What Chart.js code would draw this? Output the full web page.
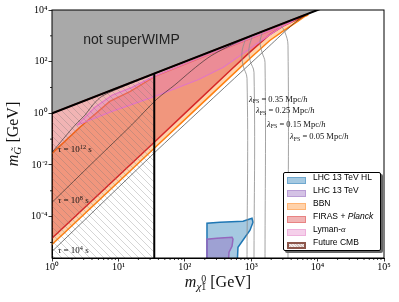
<!DOCTYPE html>
<html>
<head>
<meta charset="utf-8">
<script src="https://cdn.jsdelivr.net/npm/chart.js@4.4.1/dist/chart.umd.min.js"></script>
<style>
body { margin: 0; background: #fff; }
#wrap { position: relative; width: 399px; height: 302px; }
.t { position: absolute; white-space: nowrap; line-height: 1; color: #111; }
.ser { font-family: 'Liberation Serif', serif; }
.sans { font-family: 'Liberation Sans', Arial, sans-serif; }
.t sup { font-size: 70%; position: relative; top: -0.45em; vertical-align: baseline; }
.t sub { font-size: 70%; position: relative; top: 0.3em; vertical-align: baseline; }
.stk { display: inline-block; font-size: 62%; line-height: 0.85; vertical-align: -0.35em; }
#legend { position: absolute; left: 283px; top: 172px; width: 98px; height: 79px; border: 1px solid #000;
  border-radius: 2px; background: #fff; box-shadow: 2px 2px 0 #666; box-sizing: border-box; }
.row { position: absolute; left: 0; height: 12px; }
.patch { position: absolute; left: 3px; width: 19px; height: 7px; box-sizing: border-box; border: 1px solid; }
.lab { position: absolute; left: 29px; top: -5px; font-size: 8.5px; white-space: nowrap; }
</style>
</head>
<body>
<div id="wrap">
<canvas id="chart" width="399" height="302"></canvas>

<div class="t sans" style="left:131.5px;top:39px;transform:translate(-50%,-50%);font-size:14px;color:#222">not superWIMP</div>

<div class="t ser" style="left:58px;top:148.5px;transform:translateY(-50%);font-size:9px"><i>τ</i> = 10<sup>12</sup> s</div>
<div class="t ser" style="left:58px;top:200px;transform:translateY(-50%);font-size:9px"><i>τ</i> = 10<sup>8</sup> s</div>
<div class="t ser" style="left:58px;top:250px;transform:translateY(-50%);font-size:9px"><i>τ</i> = 10<sup>4</sup> s</div>

<div class="t ser" style="left:249px;top:98.5px;transform:translateY(-50%);font-size:8.5px"><i>λ</i><sub>FS</sub> = 0.35 Mpc/<i>h</i></div>
<div class="t ser" style="left:256px;top:110px;transform:translateY(-50%);font-size:8.5px"><i>λ</i><sub>FS</sub> = 0.25 Mpc/<i>h</i></div>
<div class="t ser" style="left:267px;top:123.5px;transform:translateY(-50%);font-size:8.5px"><i>λ</i><sub>FS</sub> = 0.15 Mpc/<i>h</i></div>
<div class="t ser" style="left:290px;top:136px;transform:translateY(-50%);font-size:8.5px"><i>λ</i><sub>FS</sub> = 0.05 Mpc/<i>h</i></div>

<div class="t ser" style="left:218px;top:283px;transform:translate(-50%,-50%);font-size:16px"><i>m</i><i style="font-size:70%;position:relative;top:0.3em">χ̃</i><span class="stk">0<br>1</span> [GeV]</div>
<div class="t ser" style="left:13px;top:134px;transform:translate(-50%,-50%) rotate(-90deg);font-size:16px"><i>m</i><sub><i>G̃</i></sub> [GeV]</div>

<div id="legend">
  <div class="row" style="top:4px"><div class="patch" style="background:rgba(31,119,180,0.4);border-color:rgba(31,119,180,0.4)"></div><div class="lab sans">LHC 13 TeV HL</div></div>
  <div class="row" style="top:17px"><div class="patch" style="background:rgba(148,103,189,0.4);border-color:rgba(148,103,189,0.4)"></div><div class="lab sans">LHC 13 TeV</div></div>
  <div class="row" style="top:30px"><div class="patch" style="background:rgba(255,127,14,0.35);border-color:rgba(255,127,14,0.35)"></div><div class="lab sans">BBN</div></div>
  <div class="row" style="top:43px"><div class="patch" style="background:rgba(214,39,40,0.35);border-color:rgba(214,39,40,0.35)"></div><div class="lab sans">FIRAS + <i>Planck</i></div></div>
  <div class="row" style="top:56px"><div class="patch" style="background:rgba(227,119,194,0.35);border-color:rgba(227,119,194,0.35)"></div><div class="lab sans">Lyman-<span class="ser"><i>α</i></span></div></div>
  <div class="row" style="top:69px"><div class="patch" style="border:2px solid #8c564b;background:repeating-linear-gradient(45deg,#f3ecea 0 1px,#d8c8c4 1px 2px)"></div><div class="lab sans">Future CMB</div></div>
</div>
</div>

<script>
// all points are [log10 m_chi, log10 m_G]
const notWimp = [[-0.2, -0.2], [4.2, 4.2], [-0.2, 4.2]];
const diagEdge = [[-0.2, -0.2], [4.2, 4.2]];

const firasEdge = [[-0.2, -5.32], [0, -4.84], [1.54, -1.12], [2.08, 0.19], [2.68, 1.65], [2.98, 2.37],
  [3.28, 3.05], [3.48, 3.38], [3.7, 3.66], [3.8, 3.79]];
const firasTop = [[3.8, 3.8], [-0.2, -0.2]];

const bbnLow = [[-0.2, -5.56], [0, -5.08], [1.54, -1.35], [2.08, -0.05], [2.68, 1.4], [2.98, 2.12],
  [3.28, 2.82], [3.48, 3.18], [3.7, 3.56], [3.85, 3.83]];
const bbnHigh = [[-0.2, -2.03], [0, -1.55], [0.42, -0.54], [0.87, 0.46], [1.18, 0.85], [1.55, 1.43],
  [2.23, 2.14], [3.0, 2.9], [3.5, 3.42], [3.85, 3.8]];

const lymanLow = [[0.377, -0.464], [0.904, 0.077], [1.551, 0.658], [2.2, 1.3], [2.58, 1.78], [2.9, 2.35],
  [3.2, 2.9], [3.45, 3.33], [3.6, 3.55], [3.69, 3.67]];
const lymanHigh = [[0.377, -0.464], [0.497, -0.155], [0.648, 0.232], [0.904, 0.697], [1.205, 1.006],
  [1.551, 1.45], [2.229, 2.15], [2.982, 2.9], [3.584, 3.5], [3.69, 3.67]];

const tau12 = [[0, -1.51], [0.346, -0.46], [0.5, -0.06], [0.6, 0.28], [0.72, 0.6], [0.85, 0.79], [1.0, 0.96], [1.3, 1.28]];
const tau8 = [[0, -3.45], [0.65, -1.82], [1.2, -0.45], [1.58, 0.55], [1.85, 1.1], [2.1, 1.65], [2.35, 2.15],
  [2.55, 2.45], [2.8, 2.76], [3.0, 2.98]];
const tau4 = [[0, -5.35], [1.55, -1.51], [2.23, 0.12], [2.8, 1.48], [3.2, 2.43], [3.5, 3.15], [3.69, 3.58],
  [3.85, 3.84], [4, 4]];

const lepCut = [[1.54, -6], [1.54, 1.54]];
const cmbHatch = [[-0.2, -6], [-0.2, -0.2], [1.54, 1.54], [1.54, -6]];

const lfs035 = [[2.907, 2.825], [2.861, 2.361], [2.877, 1.858], [2.937, 1.354], [2.937, -6]];
const lfs025 = [[3.012, 2.941], [2.967, 2.515], [2.982, 2.051], [3.042, 1.587], [3.042, -6]];
const lfs015 = [[3.163, 3.096], [3.133, 2.748], [3.163, 2.361], [3.208, 1.974], [3.208, -6]];
const lfs005 = [[3.449, 3.406], [3.509, 3.135], [3.554, 2.632], [3.554, -6]];

const lhcHL = [[2.334, -6], [2.334, -4.257], [2.53, -4.218], [2.877, -4.18], [3.012, -4.063], [3.027, -4.218],
  [2.982, -4.528], [2.907, -4.799], [2.801, -5.186], [2.786, -6]];
const lhc13 = [[2.334, -6], [2.334, -4.876], [2.485, -4.838], [2.711, -4.799], [2.726, -4.876], [2.711, -5.147],
  [2.666, -5.379], [2.651, -6]];

const xTicks = [1, 10, 100, 1e3, 1e4, 1e5];
const xTickLabels = ['10⁰', '10¹', '10²', '10³', '10⁴', '10⁵'];
const xMinorSubs = [2, 3, 4, 5, 6, 7, 8, 9];
const yTicks = [1e-4, 1e-2, 1, 1e2, 1e4];
const yTickLabels = ['10⁻⁴', '10⁻²', '10⁰', '10²', '10⁴'];
const yMinor = [1e-5, 1e-3, 1e-1, 10, 1e3];

const P = a => a.map(p => ({ x: 10 ** p[0], y: 10 ** p[1] }));

function hatch() {
  const c = document.createElement('canvas');
  c.width = 7; c.height = 7;
  const g = c.getContext('2d');
  g.strokeStyle = 'rgba(120,120,120,0.45)';
  g.lineWidth = 0.7;
  g.beginPath();
  g.moveTo(-1, -1); g.lineTo(8, 8);
  g.moveTo(-1, 6); g.lineTo(1, 8);
  g.moveTo(6, -1); g.lineTo(8, 1);
  g.stroke();
  return g.createPattern(c, 'repeat');
}

function line(pts, color, width, order, extra) {
  return Object.assign({
    data: P(pts), showLine: true, fill: false, borderColor: color, borderWidth: width,
    pointRadius: 0, pointHoverRadius: 0, order: order, clip: 0, tension: 0
  }, extra || {});
}
function area(pts, bg, color, width, order) {
  return line(pts, color, width, order, { fill: 'shape', backgroundColor: bg });
}

const frame = {
  id: 'frame',
  afterDraw(chart) {
    const { ctx, chartArea: a, scales } = chart;
    ctx.save();
    ctx.strokeStyle = '#000';
    ctx.lineWidth = 1;
    ctx.strokeRect(a.left, a.top, a.right - a.left, a.bottom - a.top);
    ctx.lineWidth = 0.8;
    ctx.beginPath();
    xTicks.slice(0, -1).forEach(d => xMinorSubs.forEach(s => {
      const px = scales.x.getPixelForValue(d * s);
      ctx.moveTo(px, a.bottom); ctx.lineTo(px, a.bottom + 2);
    }));
    yMinor.forEach(v => {
      const py = scales.y.getPixelForValue(v);
      ctx.moveTo(a.left, py); ctx.lineTo(a.left - 2, py);
    });
    ctx.stroke();
    ctx.restore();
  }
};

const tickFont = { family: 'Liberation Serif', size: 10 };

new Chart(document.getElementById('chart'), {
  type: 'scatter',
  data: {
    datasets: [
      area(notWimp, '#a9a9a9', 'rgba(0,0,0,0)', 0, 20),
      area(bbnLow.concat(bbnHigh.slice().reverse()), 'rgba(255,127,14,0.35)', '#ff7f0e', 1.5, 19),
      area(firasEdge.concat(firasTop), 'rgba(214,39,40,0.35)', '#d62728', 1.5, 18),
      area(lymanLow.concat(lymanHigh.slice(0, -1).reverse()), 'rgba(227,119,194,0.35)', '#e377c2', 1.2, 17),
      area(cmbHatch, hatch(), 'rgba(0,0,0,0)', 0, 16),
      area(lhcHL, 'rgba(31,119,180,0.4)', '#1f77b4', 1.5, 15),
      area(lhc13, 'rgba(148,103,189,0.4)', '#9467bd', 1.5, 14),
      line(tau12, '#222', 0.6, 10, { tension: 0.3 }),
      line(tau8, '#222', 0.6, 10, { tension: 0.3 }),
      line(tau4, '#222', 0.6, 10, { tension: 0.2 }),
      line(lfs035, '#8c8c8c', 0.8, 9, { tension: 0.4 }),
      line(lfs025, '#8c8c8c', 0.8, 9, { tension: 0.4 }),
      line(lfs015, '#8c8c8c', 0.8, 9, { tension: 0.4 }),
      line(lfs005, '#8c8c8c', 0.8, 9, { tension: 0.4 }),
      line(lepCut, '#000', 2, 1),
      line(diagEdge, '#000', 2, 0)
    ]
  },
  options: {
    responsive: false,
    animation: false,
    events: [],
    layout: { padding: { left: 0, right: 15, top: 10, bottom: 0 } },
    plugins: { legend: { display: false }, tooltip: { enabled: false } },
    scales: {
      x: {
        type: 'logarithmic', min: 1, max: 1e5,
        afterBuildTicks: s => { s.ticks = xTicks.map(v => ({ value: v })); },
        afterFit: s => { s.height = 44; },
        grid: { drawOnChartArea: false, tickLength: 3.5, tickColor: '#000', tickWidth: 0.8 },
        border: { color: '#000', width: 1 },
        ticks: { autoSkip: false, maxRotation: 0, padding: 0, color: '#000', font: tickFont,
          callback: (v, i) => xTickLabels[i] }
      },
      y: {
        type: 'logarithmic', min: 2.5e-6, max: 1e4,
        afterBuildTicks: s => { s.ticks = yTicks.map(v => ({ value: v })); },
        afterFit: s => { s.width = 52; },
        grid: { drawOnChartArea: false, tickLength: 3.5, tickColor: '#000', tickWidth: 0.8 },
        border: { color: '#000', width: 1 },
        ticks: { autoSkip: false, padding: 1, color: '#000', font: tickFont,
          callback: (v, i) => yTickLabels[i] }
      }
    }
  },
  plugins: [frame]
});
</script>
</body>
</html>
